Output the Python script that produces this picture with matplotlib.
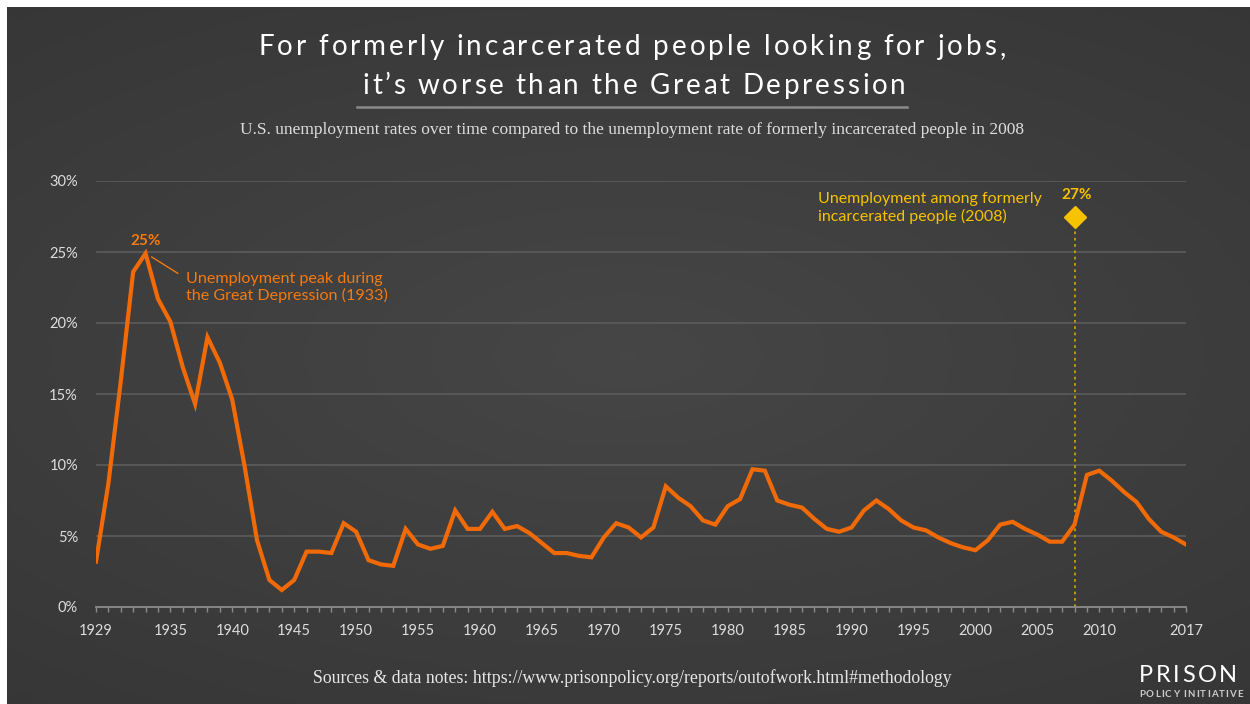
import numpy as np
import matplotlib
matplotlib.use('Agg')
import matplotlib.pyplot as plt

# U.S. annual unemployment rate (%), 1929-2017
years = list(range(1929, 2018))
rates = [3.2, 8.7, 15.9, 23.6, 24.9, 21.7, 20.1, 16.9, 14.3, 19.0,
         17.2, 14.6, 9.9, 4.7, 1.9, 1.2, 1.9, 3.9, 3.9, 3.8,
         5.9, 5.3, 3.3, 3.0, 2.9, 5.5, 4.4, 4.1, 4.3, 6.8,
         5.5, 5.5, 6.7, 5.5, 5.7, 5.2, 4.5, 3.8, 3.8, 3.6,
         3.5, 4.9, 5.9, 5.6, 4.9, 5.6, 8.5, 7.7, 7.1, 6.1,
         5.8, 7.1, 7.6, 9.7, 9.6, 7.5, 7.2, 7.0, 6.2, 5.5,
         5.3, 5.6, 6.8, 7.5, 6.9, 6.1, 5.6, 5.4, 4.9, 4.5,
         4.2, 4.0, 4.7, 5.8, 6.0, 5.5, 5.1, 4.6, 4.6, 5.8,
         9.3, 9.6, 8.9, 8.1, 7.4, 6.2, 5.3, 4.9, 4.4]
xtick_years = [1929, 1935, 1940, 1945, 1950, 1955, 1960, 1965, 1970, 1975,
               1980, 1985, 1990, 1995, 2000, 2005, 2010, 2017]
ytick_vals = [0, 5, 10, 15, 20, 25, 30]
peak_year, peak_rate = 1933, 24.9
fi_year, fi_rate = 2008, 27.5

ORANGE = '#f26a06'
ORANGE_TXT = '#f47a10'
YELLOW = '#f7c300'
W, H = 1250, 704

fig = plt.figure(figsize=(W / 100, H / 100), dpi=100, facecolor='white')
renderer = fig.canvas.get_renderer()


def spaced_text(xc, y_px, s, target_w, **kw):
    # draw s char by char, spread to target width (letter-spaced look)
    def width(txt):
        t = fig.text(0, 0, txt, **kw)
        b = t.get_window_extent(renderer).width
        t.remove()
        return b
    base = width('||')
    widths = [width('|' + c + '|') - base for c in s]
    gap = (target_w - sum(widths)) / (len(s) - 1)
    x = xc - target_w / 2
    for c, cw in zip(s, widths):
        fig.text(x / W, 1 - y_px / H, c, ha='left', va='baseline', **kw)
        x += cw + gap


# dark background with soft radial gradient
bg = fig.add_axes([7 / W, 0, 1 - 7 / W, 1 - 7 / H])
gy, gx = np.mgrid[-1:1:200j, -1:1:350j]
r = np.sqrt((gx * 0.9) ** 2 + (gy * 1.1) ** 2)
shade = 0.275 - 0.06 * np.clip(r, 0, 1.4) / 1.4
bg.imshow(np.dstack([shade, shade, shade]), aspect='auto', extent=[0, 1, 0, 1])
bg.axis('off')

ax = fig.add_axes([96 / W, 1 - 607 / H, (1186 - 96) / W, (607 - 181) / H])
ax.patch.set_alpha(0)
ax.set_xlim(1929, 2017)
ax.set_ylim(0, 30)

for v in ytick_vals[1:]:
    ax.axhline(v, color='#5c5c5c', lw=1.2, zorder=1)
for s in ['top', 'right', 'left']:
    ax.spines[s].set_visible(False)
ax.spines['bottom'].set_color('#8c8c8c')
ax.spines['bottom'].set_linewidth(1.3)

ax.set_xticks(xtick_years)
ax.set_xticklabels([str(y) for y in xtick_years])
ax.set_xticks(years, minor=True)
ax.tick_params(axis='x', which='both', colors='#dddddd', labelsize=10.5, pad=9)
ax.tick_params(axis='x', which='minor', length=3.5, width=1, color='#8c8c8c')
ax.tick_params(axis='x', which='major', length=3.5, width=1, color='#8c8c8c')
ax.set_yticks(ytick_vals)
ax.set_yticklabels([f'{v}%' for v in ytick_vals])
ax.tick_params(axis='y', length=0, colors='#dddddd', labelsize=10.5, pad=13)
for lab in ax.get_xticklabels() + ax.get_yticklabels():
    lab.set_family('Lato')

# unemployment line
ax.plot(years, rates, color=ORANGE, lw=3, solid_joinstyle='miter', zorder=3)

# 1933 peak annotation
ax.text(peak_year, 25.8, '25%', color=ORANGE_TXT, fontsize=11, fontweight='bold',
        family='Lato', ha='center', va='center')
ax.plot([1933.5, 1935.6], [24.65, 23.5], color=ORANGE_TXT, lw=1)
ax.text(1936.3, 22.5, 'Unemployment peak during\nthe Great Depression (1933)',
        color=ORANGE_TXT, fontsize=11.6, family='Lato', ha='left', va='center',
        linespacing=1.2)

# formerly incarcerated marker
ax.plot([fi_year, fi_year], [0, fi_rate], color='#c9a100', lw=1.3,
        ls=(0, (1.5, 2)), zorder=2)
ax.plot(fi_year, fi_rate, marker='D', ms=11, color=YELLOW, mec=YELLOW, zorder=4)
ax.text(fi_year + 0.2, 29.0, '27%', color=YELLOW, fontsize=11, fontweight='bold',
        family='Lato', ha='center', va='center')
ax.text(1987.3, 28.1, 'Unemployment among formerly\nincarcerated people (2008)',
        color=YELLOW, fontsize=11.5, family='Lato', ha='left', va='center',
        linespacing=1.2)

# titles
spaced_text(632, 55, 'For formerly incarcerated people looking for jobs,', 747,
            color='white', fontsize=20, family='Lato')
spaced_text(634, 94, 'it\u2019s worse than the Great Depression', 543,
            color='white', fontsize=20, family='Lato')
fig.add_artist(plt.Line2D([357 / W, 907 / W], [1 - 107 / H, 1 - 107 / H],
                          color='#8a8a8a', lw=1.8))
fig.text(632 / W, 1 - 130 / H,
         'U.S. unemployment rates over time compared to the unemployment rate of '
         'formerly incarcerated people in 2008',
         color='#dddddd', fontsize=12.5, family='Liberation Serif',
         ha='center', va='center')
fig.text(632 / W, 1 - 678 / H,
         'Sources & data notes: https://www.prisonpolicy.org/reports/outofwork.html#methodology',
         color='#e6e6e6', fontsize=12.8, family='Liberation Serif',
         ha='center', va='center')

# logo
spaced_text(1188, 682, 'PRISON', 98, color='white', fontsize=17, family='Lato')
spaced_text(1191, 697, 'POLICY INITIATIVE', 104, color='#cccccc', fontsize=7,
            family='Lato', fontweight='bold')

fig.savefig('out.png', dpi=100, facecolor=fig.get_facecolor())
